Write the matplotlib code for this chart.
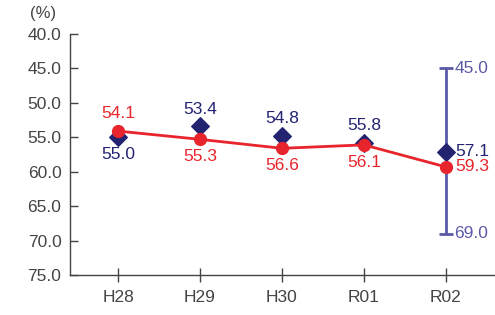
import matplotlib
matplotlib.use('Agg')
import matplotlib.pyplot as plt

years = ['H28', 'H29', 'H30', 'R01', 'R02']
red_vals = [54.1, 55.3, 56.6, 56.1, 59.3]
navy_vals = [55.0, 53.4, 54.8, 55.8, 57.1]
range_low = 45.0
range_high = 69.0

red = '#e8242c'
navy = '#232372'
slate = '#5a5aa6'
grey = '#444444'

plt.rcParams['font.family'] = ['Liberation Sans', 'DejaVu Sans']

fig = plt.figure(figsize=(4.95, 3.15), dpi=100)
ax = fig.add_axes([0.141, 0.127, 0.859, 0.765])

x = list(range(len(years)))
last = x[-1]

# range bar for the last year
ax.errorbar([last], [(range_low + range_high) / 2],
            yerr=[[(range_high - range_low) / 2]], fmt='none',
            ecolor=slate, elinewidth=2, capsize=5, capthick=2, zorder=1)

ax.plot(x, red_vals, color=red, lw=2, marker='o', ms=8.5, zorder=3)
ax.scatter(x, navy_vals, marker='D', s=80, color=navy, zorder=2)

fs = 12.5
# red labels
for i, v in enumerate(red_vals):
    if i == 0:
        ax.annotate(f'{v:.1f}', (i, v), xytext=(0, 7), textcoords='offset points',
                    ha='center', va='bottom', color=red, fontsize=fs)
    elif i == last:
        ax.annotate(f'{v:.1f}', (i, v), xytext=(7, 0), textcoords='offset points',
                    ha='left', va='center', color=red, fontsize=fs)
    else:
        ax.annotate(f'{v:.1f}', (i, v), xytext=(0, -7), textcoords='offset points',
                    ha='center', va='top', color=red, fontsize=fs)

# navy labels
for i, v in enumerate(navy_vals):
    if i == 0:
        ax.annotate(f'{v:.1f}', (i, v), xytext=(0, -7), textcoords='offset points',
                    ha='center', va='top', color=navy, fontsize=fs)
    elif i == last:
        ax.annotate(f'{v:.1f}', (i, v), xytext=(7, 0), textcoords='offset points',
                    ha='left', va='center', color=navy, fontsize=fs)
    else:
        ax.annotate(f'{v:.1f}', (i, v), xytext=(0, 7), textcoords='offset points',
                    ha='center', va='bottom', color=navy, fontsize=fs)

for v in (range_low, range_high):
    ax.annotate(f'{v:.1f}', (last, v), xytext=(6, 0), textcoords='offset points',
                ha='left', va='center', color=slate, fontsize=fs)

ax.set_ylim(75, 40)
ax.set_yticks([40, 45, 50, 55, 60, 65, 70, 75])
ax.set_yticklabels([f'{t:.1f}' for t in ax.get_yticks()])
ax.set_xlim(-0.59, 4.6)
ax.set_xticks(x)
ax.set_xticklabels(years)

ax.tick_params(axis='y', direction='in', length=6, width=1, colors=grey,
               labelsize=fs, pad=6, labelcolor=grey)
ax.tick_params(axis='x', direction='inout', length=10, width=1, colors=grey,
               labelsize=fs, pad=6, labelcolor=grey)
for s in ('top', 'right'):
    ax.spines[s].set_visible(False)
for s in ('left', 'bottom'):
    ax.spines[s].set_color(grey)
    ax.spines[s].set_linewidth(1)

fig.text(0.06, 0.958, '(%)', color=grey, fontsize=12, ha='left', va='center')

fig.savefig('out.png', dpi=100)
